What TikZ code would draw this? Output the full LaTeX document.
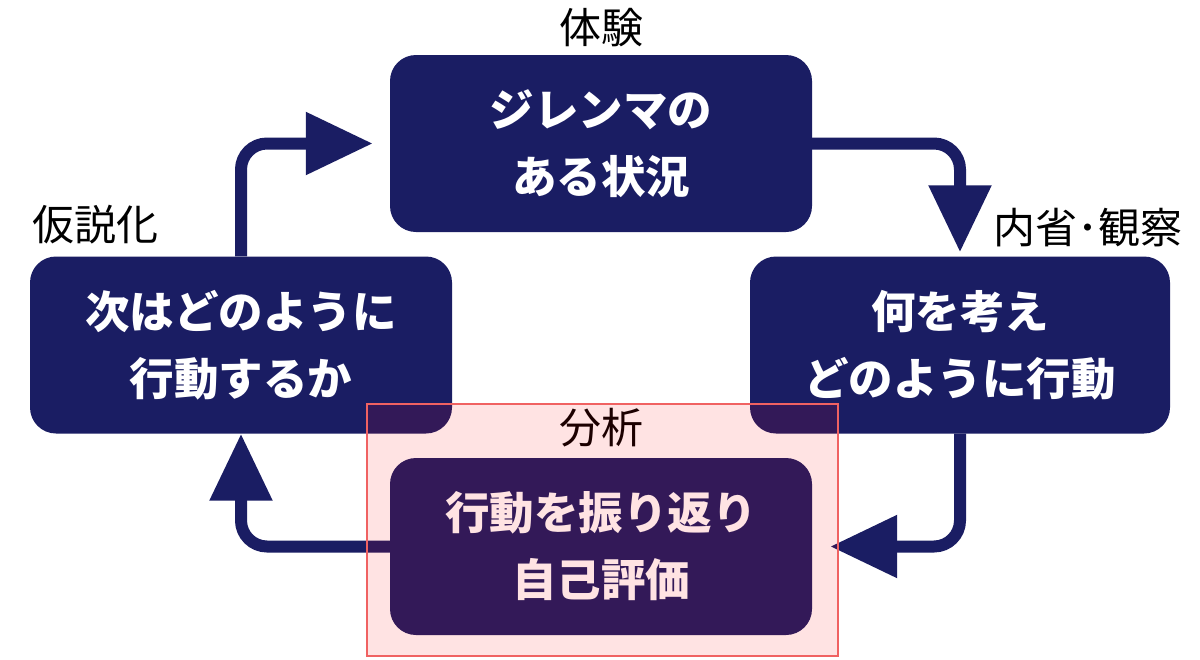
\documentclass[tikz,border=0pt]{standalone}
\usepackage{fontspec}
\setmainfont{Noto Sans CJK JP}
\usetikzlibrary{arrows.meta}
\definecolor{navy}{HTML}{1A1D63}
\definecolor{frame}{HTML}{F06262}
\pgfdeclarelayer{bg}
\pgfsetlayers{bg,main}
\begin{document}
\begin{tikzpicture}[x=1pt,y=-1pt,
  box/.style={fill=navy, rounded corners=26pt, minimum width=422pt, minimum height=177pt,
    text=white, align=center, font=\fontsize{44.5}{67}\selectfont\bfseries, inner sep=0pt},
  lbl/.style={text=black, font=\fontsize{42}{50}\selectfont, inner sep=0pt},
  flow/.style={draw=navy, line width=12pt, rounded corners=26pt,
    -{Triangle[length=67pt,width=60pt]}}]
\useasboundingbox (0,0) rectangle (1200,659);
% boxes
\node[box] (T) at (601,143.5) {ジレンマの\\ある状況};
\node[box] (L) at (241,345) {次はどのように\\行動するか};
\node[box, minimum width=420pt] (R) at (960,345) {何を考え\\どのように行動};
\node[box] (B) at (601,546.5) {行動を振り返り\\自己評価};
% background and connectors (behind the boxes)
\begin{pgfonlayer}{bg}
\fill[white] (0,0) rectangle (1200,659);
\draw[flow] (L.north) |- ([xshift=-17pt]T.west);
\draw[flow] (T.east) -| ([yshift=4pt]R.north);
\draw[flow] (R.south) |- ([xshift=18pt]B.east);
\draw[flow] (B.west) -| (L.south);
\end{pgfonlayer}
% labels
\node[lbl] (lT) at (601,28) {体験};
\node[lbl] (lL) at (95,225) {仮説化};
\node[lbl] (lR) at (1088,228) {内省･観察};
\node[lbl] (lB) at (601,428) {分析};
% highlight overlay
\node[draw=frame, line width=2pt, fill=red, fill opacity=0.11, draw opacity=1,
  minimum width=471pt, minimum height=252pt, inner sep=0pt] (H) at (602.5,530) {};
\end{tikzpicture}
\end{document}
